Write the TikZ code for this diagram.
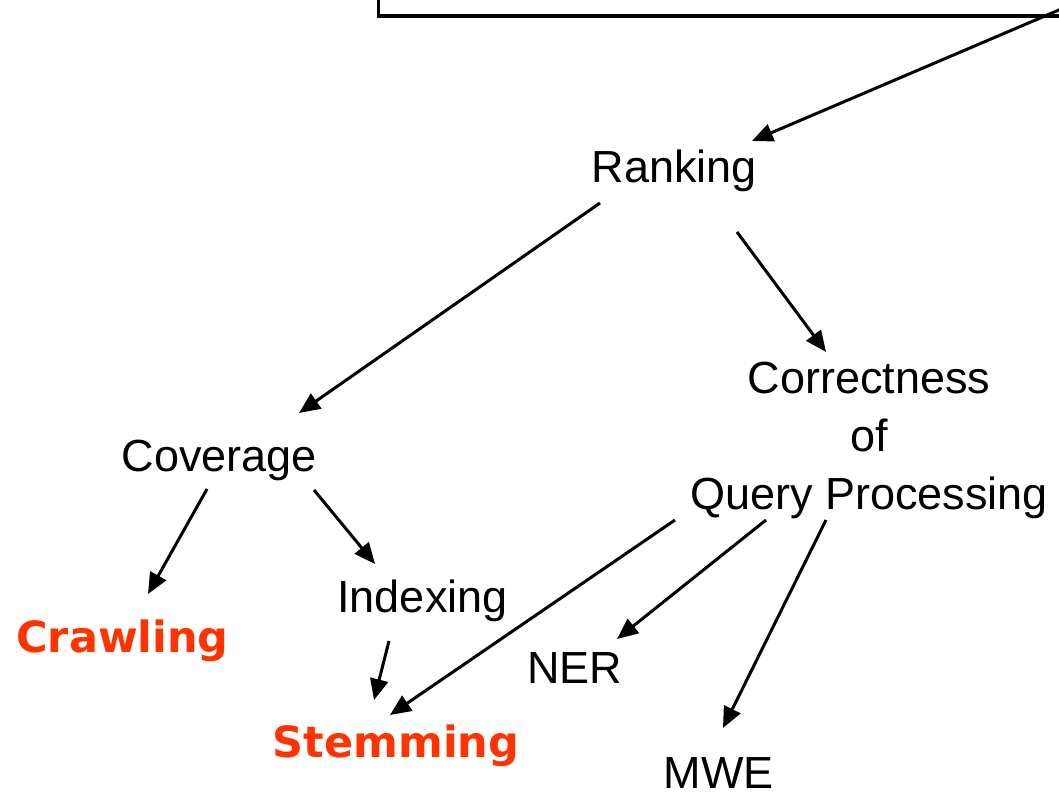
\documentclass[tikz,border=0pt]{standalone}
\usepackage{fontspec}
\setmainfont{Liberation Sans}
\newfontfamily\heavyfont{DejaVu Sans}
\usetikzlibrary{arrows.meta}
\definecolor{hotred}{RGB}{255,51,0}
\tikzset{
  lbl/.style={inner sep=0pt, anchor=base, font=\fontsize{45}{58}\selectfont},
  hot/.style={inner sep=0pt, anchor=base, text=hotred, font=\heavyfont\bfseries\fontsize{43}{50}\selectfont},
  arr/.style={line width=3pt, -{Triangle[length=21pt,width=18pt]}},
  frame/.style={draw, line width=3.4pt, inner sep=0pt, anchor=south west,
    minimum width=800pt, minimum height=80pt}
}
\begin{document}
\begin{tikzpicture}[x=1pt,y=-1pt]
  \fill[white] (0,0) rectangle (1059,794);
  \useasboundingbox (0,0) rectangle (1059,794);

  % top frame, mostly off the page
  \node[frame] (head) at (377,17.7) {};

  % nodes
  \node[lbl] (rank)  at (674.5,183) {Ranking};
  \node[lbl] (cov)   at (219.5,471) {Coverage};
  \node[lbl, align=center, anchor=center] (qp) at (869,440)
        {Correctness\\of\\Query Processing};
  \node[lbl] (idx)   at (422.5,612) {Indexing};
  \node[hot] (crawl) at (122.5,652) {Crawling};
  \node[hot] (stem)  at (396,757)   {Stemming};
  \node[lbl] (ner)   at (574.5,683) {NER};
  \node[lbl] (mwe)   at (718.5,788) {MWE};

  % connectors
  \draw[arr] ([shift={(703,-16.7)}]head.south west) -- ([shift={(77.5,-42)}]rank.base);
  \draw[arr] ([shift={(-74.5,20)}]rank.base) -- ([shift={(79.5,-58)}]cov.base);
  \draw[arr] ([shift={(62.5,49)}]rank.base)  -- ([shift={(-43,-88)}]qp.center);
  \draw[arr] ([shift={(-12.5,18)}]cov.base)  -- ([shift={(25.5,-58)}]crawl.base);
  \draw[arr] ([shift={(94.5,19)}]cov.base)   -- ([shift={(-47.5,-48)}]idx.base);
  \draw[arr] ([shift={(-33.5,29)}]idx.base)  -- ([shift={(-22,-57)}]stem.base);
  \draw[arr] ([shift={(-194,80)}]qp.center)  -- ([shift={(-6,-42)}]stem.base);
  \draw[arr] ([shift={(-103,80)}]qp.center)  -- ([shift={(42.5,-44)}]ner.base);
  \draw[arr] ([shift={(-43,80)}]qp.center)   -- ([shift={(4.5,-60)}]mwe.base);
\end{tikzpicture}
\end{document}
